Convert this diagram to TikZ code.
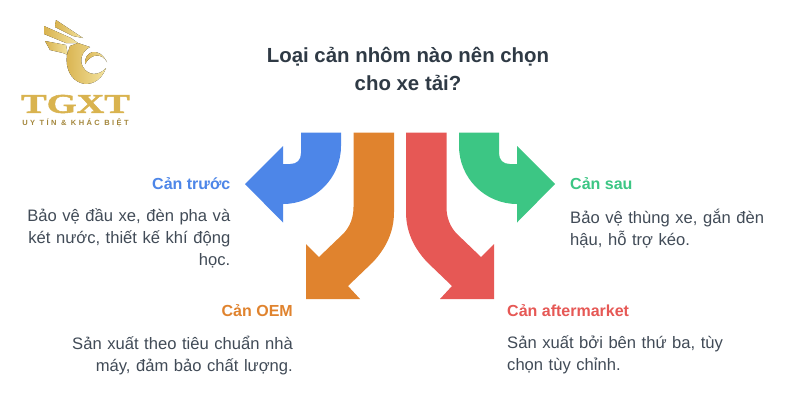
\documentclass[tikz,border=0pt]{standalone}
\usepackage{fontspec}
\setmainfont{Liberation Sans}
\newfontfamily\logofont[FakeStretch=1.42,FakeBold=2]{Liberation Serif}
\newfontfamily\tagfont[LetterSpace=32]{Liberation Sans}
\usetikzlibrary{shadings}
\definecolor{cblue}{HTML}{4D86E8}
\definecolor{corange}{HTML}{E0832E}
\definecolor{cred}{HTML}{E65855}
\definecolor{cgreen}{HTML}{3CC684}
\definecolor{ink}{HTML}{414B57}
\definecolor{ctitle}{HTML}{2F3A45}
\definecolor{gold}{HTML}{D9B34F}
\definecolor{goldl}{HTML}{F3E3A0}
\tikzset{x=1pt,y=-1pt,
 head/.style={font=\fontsize{16}{19}\selectfont\bfseries,inner sep=0pt},
 body/.style={font=\fontsize{16.6}{22}\selectfont,text=ink,inner sep=0pt,text width=240pt},
 goldshape/.style={left color=gold,right color=goldl,draw=none}}
\begin{document}
\begin{tikzpicture}
\useasboundingbox (0,0) rectangle (800,416);
\fill[white] (0,0) rectangle (800,416);
% logo
\fill[goldshape] (56,20) -- (83,38) -- (73,36) -- (55,27) -- cycle;
\fill[goldshape] (44,26) -- (71,38) -- (78,43) -- (66,43) -- (44,34) -- cycle;
\fill[goldshape] (45,41) -- (66,45) -- (68,55) -- (63,53) -- (50,50) -- cycle;
\fill[left color=gold,right color=goldl] (67,55) -- (70,46) -- (78,43) -- (90,47) .. controls (82,51) and (79,60) .. (83,67) .. controls (88,76) and (99,76) .. (106,68) .. controls (101,82) and (89,86) .. (81,83) .. controls (71,80) and (65,68) .. (67,55) -- cycle;
\fill[left color=gold,right color=goldl] (85,64) .. controls (84,52) and (98,45) .. (107,62) .. controls (103,54) and (92,52) .. (85,64) -- cycle;
\node[font=\logofont\bfseries\fontsize{27}{27}\selectfont,text=gold,inner sep=0pt] (logotext) at (75.5,104) {TGXT};
\node[font=\tagfont\bfseries\fontsize{7.5}{8}\selectfont,text=gold!75!black,inner sep=0pt] (logotag) at (75.5,123) {UY TÍN \& KHÁC BIỆT};
% title
\node[font=\fontsize{20.4}{28.5}\selectfont\bfseries,text=ctitle,align=center,inner sep=0pt] (title) at (408,69) {Loại cản nhôm nào nên chọn\\cho xe tải?};
% arrows
\fill[cblue] (301,132.5) -- (341,132.5) -- (341,146) .. controls (341,178) and (315,204) .. (283,204) -- (283,222.5) -- (245,184) -- (283,146) -- (283,164) -- (290,164) .. controls (297,164) and (301,160) .. (301,153) -- cycle;
\fill[cgreen] (499,132.5) -- (459,132.5) -- (459,146) .. controls (459,178) and (485,204) .. (517,204) -- (517,222.5) -- (555,184) -- (517,146) -- (517,164) -- (510,164) .. controls (503,164) and (499,160) .. (499,153) -- cycle;
\fill[corange] (353.5,132.5) -- (394,132.5) -- (394,212) .. controls (394,232) and (386,248) .. (373,262) -- (348,286) -- (360,299) -- (306,299) -- (306,244) -- (319,257) -- (344,233) .. controls (350,226) and (353.5,218) .. (353.5,207) -- cycle;
\fill[cred] (446.5,132.5) -- (406,132.5) -- (406,212) .. controls (406,232) and (414,248) .. (427,262) -- (452,286) -- (440,299) -- (494,299) -- (494,244) -- (481,257) -- (456,233) .. controls (450,226) and (446.5,218) .. (446.5,207) -- cycle;
% labels
\node[head,text=cblue,anchor=east] (h1) at (230.5,184) {Cản trước};
\node[body,align=right,anchor=north east] (b1) at (230.5,209) {Bảo vệ đầu xe, đèn pha và\\két nước, thiết kế khí động\\học.};
\node[head,text=cgreen,anchor=west] (h2) at (570,184) {Cản sau};
\node[body,align=left,anchor=north west] (b2) at (570,209) {Bảo vệ thùng xe, gắn đèn\\hậu, hỗ trợ kéo.};
\node[head,text=corange,anchor=east] (h3) at (293,311) {Cản OEM};
\node[body,align=right,anchor=north east] (b3) at (293,336) {Sản xuất theo tiêu chuẩn nhà\\máy, đảm bảo chất lượng.};
\node[head,text=cred,anchor=west] (h4) at (507,311) {Cản aftermarket};
\node[body,align=left,anchor=north west] (b4) at (507,336) {Sản xuất bởi bên thứ ba, tùy\\chọn tùy chỉnh.};
\end{tikzpicture}
\end{document}
